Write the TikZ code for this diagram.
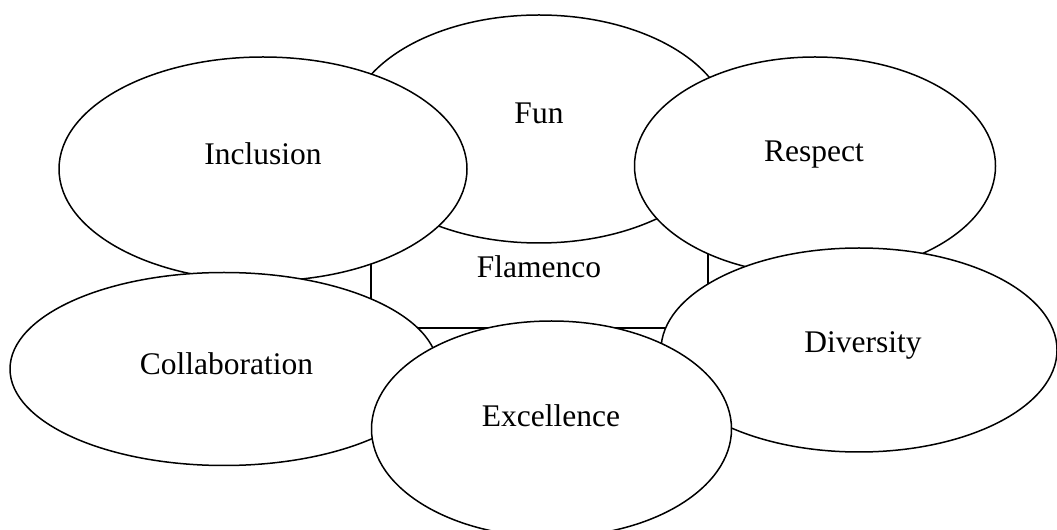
\documentclass[tikz,border=0pt]{standalone}
\usepackage{fontspec}
\setmainfont{Liberation Serif}
\usetikzlibrary{shapes.geometric}

\begin{document}
\begin{tikzpicture}[line join=bevel,
  value/.style={ellipse,draw=black,fill=white,inner sep=0pt,outer sep=0pt},
  core/.style={rectangle,draw=black,fill=white,inner sep=0pt,outer sep=0pt},
  word/.style={anchor=base,inner sep=0pt,font=\fontsize{31.5bp}{36bp}\selectfont},
]
  \pgfsetlinewidth{1.5bp}
  \useasboundingbox (0bp,0bp) rectangle (1057bp,530bp);
%%
  % Node: flamenco
  \node[core,minimum width=337bp,minimum height=178bp] (flamenco) at (539.5bp,291bp) {};
  % Node: fun
  \node[value,minimum width=382bp,minimum height=228bp] (fun) at (539bp,401bp) {};
  % Node: inclusion
  \node[value,minimum width=408bp,minimum height=224bp] (inclusion) at (263bp,361bp) {};
  % Node: respect
  \node[value,minimum width=361bp,minimum height=218bp] (respect) at (815bp,364bp) {};
  % Node: collaboration
  \node[value,minimum width=428bp,minimum height=193bp] (collaboration) at (224bp,161bp) {};
  % Node: diversity
  \node[value,minimum width=396bp,minimum height=204bp] (diversity) at (859bp,180bp) {};
  % Node: excellence
  \node[value,minimum width=360bp,minimum height=216bp] (excellence) at (551.5bp,101bp) {};
%%
  \node[word] (flamencotext) at (539bp,252bp) {Flamenco};
  \node[word] (funtext) at (539bp,406bp) {Fun};
  \node[word] (inclusiontext) at (263bp,365bp) {Inclusion};
  \node[word] (respecttext) at (814bp,368bp) {Respect};
  \node[word] (collaborationtext) at (226.5bp,155bp) {Collaboration};
  \node[word] (diversitytext) at (863bp,177bp) {Diversity};
  \node[word] (excellencetext) at (551bp,103bp) {Excellence};
%
\end{tikzpicture}
\end{document}
